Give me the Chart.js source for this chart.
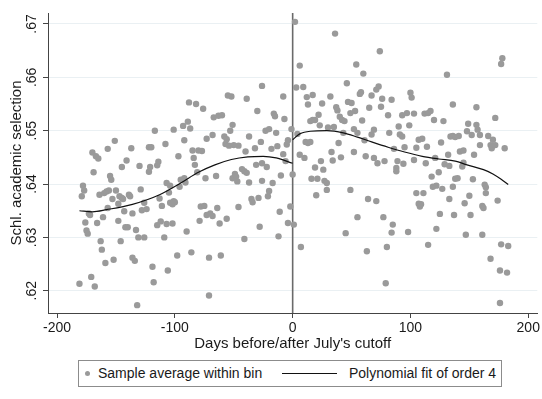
<!DOCTYPE html>
<html>
<head>
<meta charset="utf-8">
<script src="https://cdn.jsdelivr.net/npm/chart.js@4.4.1/dist/chart.umd.min.js"></script>
<style>
  html, body { margin: 0; padding: 0; background: #ffffff; overflow: hidden; }
  #wrap { position: relative; width: 542px; height: 399px; font-family: "Liberation Sans", Arial, sans-serif; }
  #c { position: absolute; left: 0; top: 0; }
  #legend { position: absolute; left: 78px; top: 360px; width: 422px; height: 25px; border: 1px solid #8c8c8c; background: #fff; }
  #legend .dot { position: absolute; left: 6px; top: 10px; width: 5px; height: 5px; border-radius: 50%; background: #9a9a9a; }
  #legend .txt { position: absolute; top: 4px; font-size: 14px; line-height: 17px; color: #1a1a1a; white-space: nowrap; }
  #legend .ln { position: absolute; left: 203px; top: 12px; width: 55px; height: 0; border-top: 1.2px solid #111; }
</style>
</head>
<body>
<div id="wrap">
  <canvas id="c" width="542" height="399"></canvas>
  <div id="legend">
    <span class="dot"></span><span class="txt" style="left:19px">Sample average within bin</span>
    <span class="ln"></span><span class="txt" style="left:270px">Polynomial fit of order 4</span>
  </div>
</div>
<script>
// ---- data ----
const binDays = [
 -181,-179,-178,-177,-176,-175,-174,-173,-172,-171,-168,-170,-167,-165,-169,-166,-163,-162,-161,-159,
 -164,-160,-158,-156,-157,-157,-151,-155,-154,-153,-152,-150,-148,-147,-145,-145,-148,-146,-144,-143,
 -142,-140,-141,-139,-138,-137,-136,-136,-134,-133,-132,-131,-130,-129,-128,-126,-126,-124,-122,-120,
 -122,-121,-119,-118,-117,-115,-114,-112,-115,-113,-111,-108,-107,-107,-109,-106,-105,
 -104,-104,-102,-101,-100,-102,-98,-97,-96,-95,-92,-91,-101,-92,-93,-89,-87,-90,-88,-82,-76,-86,
 -85,-80,-77,-84,-83,-81,-79,-78,-75,-74,-73,-73,-70,-68,-71,-71,-67,-63,-60,-68,-65,-64,-62,-61,
 -58,-57,-56,-54,-56,-55,-52,-53,-51,-50,-46,-51,-49,-48,-47,-46,-43,-41,-39,-41,-40,-39,-37,-37,
 -35,-34,-32,-31,-30,-29,-28,-27,-26,-26,-26,
 -22,-21,-20,-18,-16,-15,-23,-20,-17,-14,-13,-11,-12,-10,-8,-7,-8,-6,-5,-4,-4,-2,-1,0,
 1,2,3,9,4,6,10,6,7,11,13,15,12,13,17,15,17,19,16,21,19,24,20,22,23,25,26,27,29,29,
 30,32,33,34,35,36,37,38,39,40,42,44,41,43,45,46,47,50,49,49,52,52,53,54,55,55,57,
 58,59,60,61,62,63,64,65,67,67,69,69,71,71,73,72,74,75,76,77,78,79,80,81,82,84,84,85,86,88,88,89,
 90,91,93,93,97,94,95,98,99,100,101,103,103,105,105,107,108,109,107,110,111,112,115,117,113,114,115,
 118,119,122,120,121,122,124,125,126,127,128,129,131,132,133,134,136,136,137,138,
 136,138,141,133,144,145,142,145,140,146,150,151,147,161,153,154,159,149,148,152,156,157,159,156,
 166,170,168,169,172,180,172,178,177,163,164,164,161,162,174,177,183,168,176,182,176
];
const binMeans = [
 .6213,.6377,.6397,.6388,.6328,.6313,.6307,.6345,.6342,.6226,.6208,.6459,.6452,.6448,.6422,.6327,.6293,.6277,.6338,.6252,
 .6380,.6383,.6386,.6388,.6355,.6466,.6481,.6415,.6408,.6372,.6258,.6388,.6363,.6377,.6374,.6432,.6331,.6293,.6372,.6349,
 .6319,.6319,.6444,.6380,.6377,.6467,.6345,.6262,.6256,.6314,.6173,.6300,.6434,.6390,.6351,.6300,.6365,.6353,.6469,.6469,
 .6423,.6432,.6245,.6216,.6500,.6435,.6442,.6330,.6323,.6373,.6359,.6475,.6402,.6325,.6300,.6238,.6384,
 .6397,.6365,.6362,.6368,.6366,.6326,.6266,.6452,.6395,.6408,.6411,.6403,.6502,.6482,.6509,.6517,.6504,.6311,.6553,.6550,.6541,.6272,
 .6463,.6463,.6462,.6449,.6436,.6422,.6331,.6358,.6359,.6411,.6485,.6342,.6345,.6340,.6262,.6191,.6525,.6528,.6529,.6492,.6415,.6355,.6326,.6266,
 .6489,.6475,.6484,.6472,.6335,.6566,.6564,.6500,.6511,.6473,.6472,.6411,.6419,.6414,.6405,.6357,.6428,.6424,.6421,.6297,.6461,.6560,.6489,.6403,
 .6372,.6366,.6467,.6436,.6537,.6374,.6320,.6479,.6439,.6584,.6406,
 .6432,.6377,.6387,.6466,.6532,.6527,.6500,.6503,.6402,.6496,.6471,.6348,.6302,.6416,.6564,.6522,.6456,.6443,.6474,.6482,.6327,.6358,.6503,.6418,
 .6324,.6704,.6581,.6582,.6494,.6455,.6449,.6622,.6282,.6479,.6477,.6479,.6563,.6549,.6567,.6518,.6520,.6520,.6410,.6410,.6431,.6443,.6379,.6530,.6510,.6551,.6427,.6406,.6389,.6402,
 .6506,.6564,.6460,.6444,.6507,.6682,.6544,.6538,.6477,.6526,.6520,.6518,.6450,.6496,.6308,.6589,.6554,.6552,.6533,.6389,.6503,.6460,.6537,.6624,.6496,.6338,.6569,
 .6572,.6519,.6607,.6482,.6452,.6274,.6372,.6543,.6566,.6493,.6502,.6449,.6368,.6577,.6583,.6439,.6649,.6545,.6560,.6338,.6443,.6214,.6282,.6529,.6496,.6558,.6309,.6324,.6466,.6430,.6424,.6443,
 .6508,.6493,.6489,.6529,.6533,.6438,.6469,.6310,.6510,.6571,.6562,.6532,.6445,.6468,.6383,.6363,.6358,.6362,.6483,.6485,.6383,.6532,.6533,.6537,.6439,.6470,.6286,
 .6414,.6395,.6397,.6520,.6449,.6316,.6422,.6344,.6478,.6391,.6518,.6437,.6605,.6455,.6372,.6489,.6395,.6549,.6342,.6410,
 .6490,.6488,.6490,.6434,.6433,.6440,.6461,.6463,.6411,.6364,.6378,.6342,.6305,.6305,.6409,.6455,.6473,.6513,.6499,.6492,.6511,.6502,.6492,.6544,
 .6490,.6483,.6473,.6467,.6473,.6467,.6524,.6636,.6625,.6399,.6394,.6383,.6359,.6355,.6369,.6287,.6284,.6260,.6238,.6234,.6177
];
const fitLeftDays  = [-181, -170, -158, -136, -113, -95, -80, -66, -52, -38, -25, -14, 0];
const fitLeftVals  = [.6350, .6348, .6352, .6362, .6380, .6402, .6422, .6436, .6446, .6451, .6452, .6449, .6439];
const fitRightDays = [0, 6, 15, 29, 43, 55, 67, 81, 95, 110, 124, 138, 148, 162, 170, 177, 183];
const fitRightVals = [.6483, .6494, .6499, .6500, .6496, .6488, .6479, .6469, .6460, .6452, .6447, .6443, .6436, .6427, .6419, .6409, .6399];
const xTicks = [-200, -100, 0, 100, 200];
const yTicks = [.62, .63, .64, .65, .66, .67];
const yTickLabels = ['.62', '.63', '.64', '.65', '.66', '.67'];
const cutoffDay = 0;

// ---- chart ----
const pts = (xs, ys) => xs.map((x, i) => ({ x: x, y: ys[i] }));
const zeroLine = {
  id: 'zeroLine',
  beforeDatasetsDraw(chart) {
    const { ctx, chartArea, scales } = chart;
    const px = scales.x.getPixelForValue(cutoffDay);
    ctx.save();
    ctx.strokeStyle = '#6a6a6a';
    ctx.lineWidth = 1.6;
    ctx.beginPath();
    ctx.moveTo(px, chartArea.top);
    ctx.lineTo(px, chartArea.bottom);
    ctx.stroke();
    ctx.restore();
  }
};
const lineStyle = { type: 'line', borderColor: '#111111', borderWidth: 1.2, pointRadius: 0, fill: false, tension: 0.4, cubicInterpolationMode: 'monotone', order: 1 };
new Chart(document.getElementById('c'), {
  type: 'scatter',
  data: {
    datasets: [
      { type: 'scatter', label: 'Sample average within bin', data: pts(binDays, binMeans),
        backgroundColor: '#9a9a9a', borderWidth: 0, pointRadius: 3.2, order: 2 },
      Object.assign({ label: 'Polynomial fit of order 4', data: pts(fitLeftDays, fitLeftVals) }, lineStyle),
      Object.assign({ label: 'Polynomial fit of order 4 ', data: pts(fitRightDays, fitRightVals) }, lineStyle)
    ]
  },
  options: {
    responsive: false, animation: false, devicePixelRatio: 1,
    layout: { padding: { left: 0, right: 4, top: 13, bottom: 46 } },
    plugins: { legend: { display: false }, tooltip: { enabled: false } },
    font: { family: '"Liberation Sans", Arial, sans-serif' },
    scales: {
      x: {
        type: 'linear', min: -207.7, max: 207.7,
        afterBuildTicks: s => { s.ticks = xTicks.map(v => ({ value: v })); },
        afterFit: s => { s.height = 40; },
        grid: { drawOnChartArea: false, drawTicks: true, tickLength: 5, color: '#444', tickColor: '#444' },
        border: { display: true, color: '#444', width: 1 },
        ticks: { color: '#1a1a1a', font: { size: 14, family: '"Liberation Sans", Arial, sans-serif' }, padding: 2, maxRotation: 0, minRotation: 0 },
        title: { display: true, text: "Days before/after July's cutoff", color: '#1a1a1a',
                 font: { size: 15, family: '"Liberation Sans", Arial, sans-serif' }, padding: 0 }
      },
      y: {
        type: 'linear', min: .61583, max: .67206,
        afterBuildTicks: s => { s.ticks = yTicks.map(v => ({ value: v })); },
        afterFit: s => { s.width = 48; },
        grid: { color: '#eaf0f3', tickColor: '#444', tickLength: 5, drawTicks: true },
        border: { display: true, color: '#444', width: 1 },
        ticks: { color: '#1a1a1a', font: { size: 14, family: '"Liberation Sans", Arial, sans-serif' },
                 minRotation: 90, maxRotation: 90, crossAlign: 'center', padding: 1,
                 callback: (v, i) => yTickLabels[i] },
        title: { display: true, text: 'Schl. academic selection', color: '#1a1a1a',
                 font: { size: 15, family: '"Liberation Sans", Arial, sans-serif' }, padding: { top: 8, bottom: 0 } }
      }
    }
  },
  plugins: [zeroLine]
});
</script>
</body>
</html>
